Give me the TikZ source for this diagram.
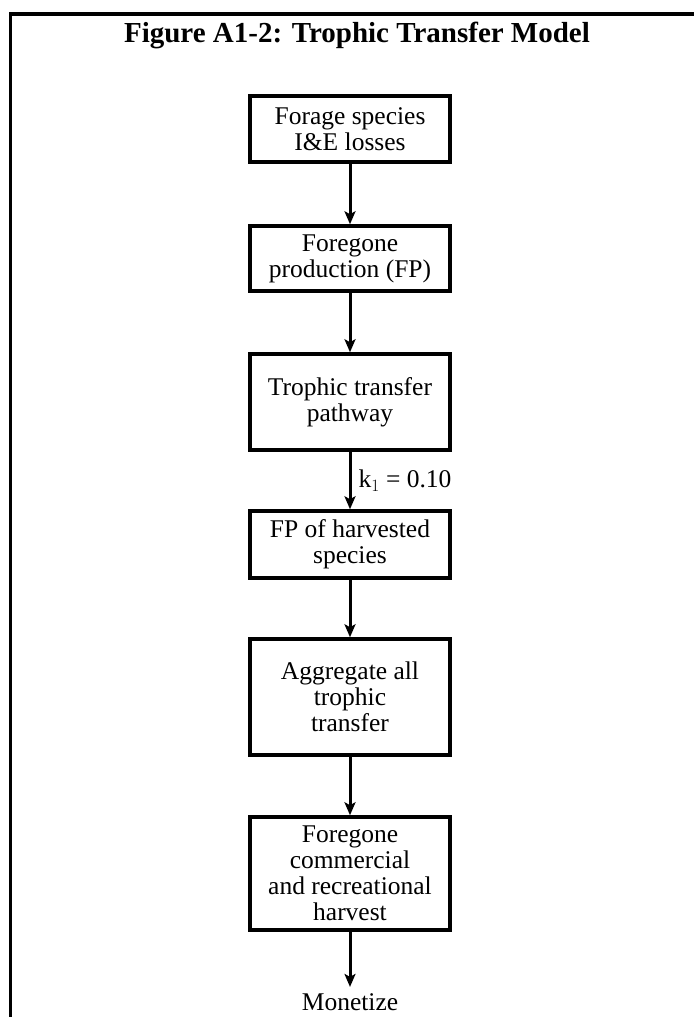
\documentclass[tikz,border=0pt]{standalone}
\usepackage{fontspec}
\setmainfont{Liberation Serif}
\usetikzlibrary{arrows.meta}
\begin{document}
\begin{tikzpicture}[x=1pt,y=-1pt,
  flowbox/.style={draw, line width=3.5pt, minimum width=200pt, align=center,
    inner sep=0pt, font=\fontsize{25.5}{26}\selectfont},
  flowarrow/.style={line width=3pt, -{Stealth[length=13pt,width=11pt,inset=3pt]}},
  plaintext/.style={inner sep=2pt, font=\fontsize{25.5}{26}\selectfont},
  frameline/.style={line width=3.5pt}]
\useasboundingbox (0,0) rectangle (694,1017);
% frame: top rule and left rule
\coordinate (fbl) at (10.5,1017);
\coordinate (ftl) at (10.5,14);
\coordinate (ftr) at (694,14);
\draw[frameline] (fbl) -- (ftl) -- (ftr);
% heading
\node[anchor=base, inner sep=0pt, font=\fontsize{29}{32}\selectfont\bfseries] (title) at (357,42)
  {Figure A1-2: Trophic Transfer Model};
% the chain of steps
\node[flowbox, minimum height=66pt] (b1) at (350,129) {Forage species\\I\&E losses};
\node[flowbox, minimum height=65pt] (b2) at (350,258.5) {Foregone\\production (FP)};
\node[flowbox, minimum height=96pt] (b3) at (350,402) {Trophic transfer\\pathway};
\node[flowbox, minimum height=67pt] (b4) at (350,544.5) {FP of harvested\\species};
\node[flowbox, minimum height=116pt] (b5) at (350,697) {Aggregate all\\trophic\\transfer};
\node[flowbox, minimum height=113pt] (b6) at (350,873.5) {Foregone\\commercial\\and recreational\\harvest};
\node[plaintext, anchor=base] (mon) at (350,1010) {Monetize};
% connectors
\draw[flowarrow] (b1) -- (b2);
\draw[flowarrow] (b2) -- (b3);
\draw[flowarrow] (b3) -- node[plaintext, anchor=west, xshift=5pt] (k1) {k$_{\fontsize{16}{16}\selectfont 1}$ = 0.10} (b4);
\draw[flowarrow] (b4) -- (b5);
\draw[flowarrow] (b5) -- (b6);
\draw[flowarrow] (b6) -- ([yshift=4pt]mon.north);
\end{tikzpicture}
\end{document}
